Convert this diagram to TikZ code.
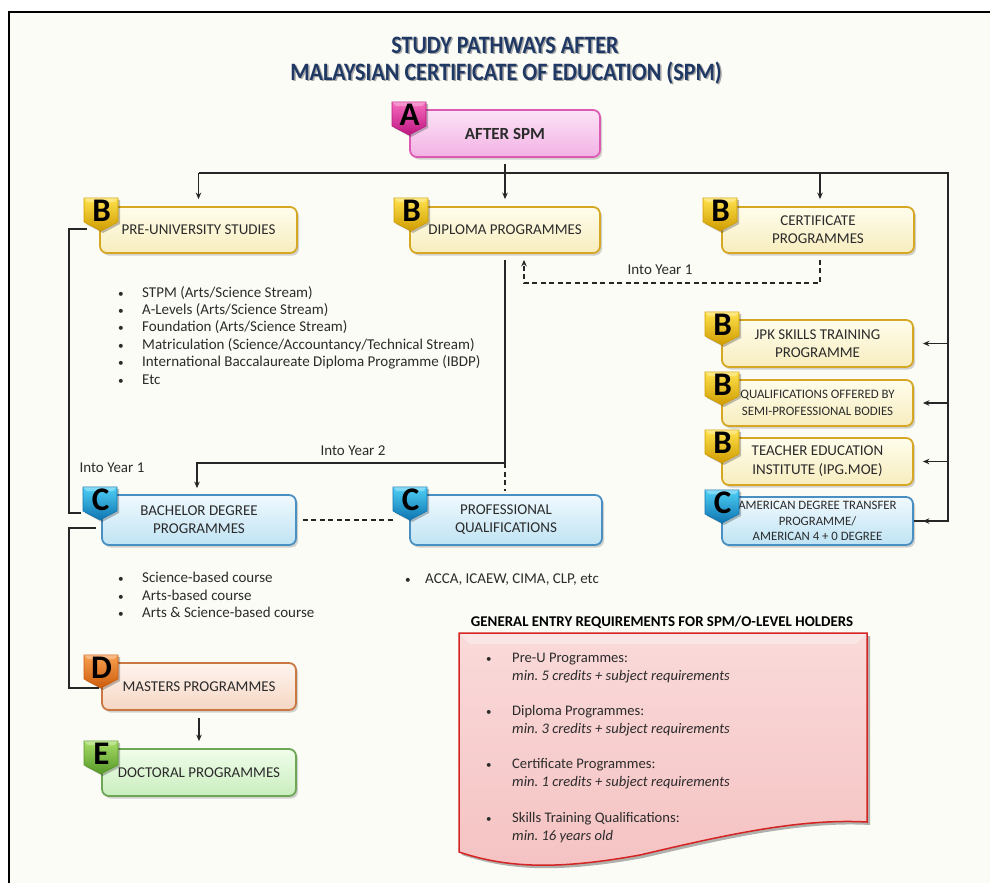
\documentclass[tikz,border=0pt]{standalone}
\usepackage{fontspec}
\setmainfont{Carlito}
\usetikzlibrary{shadows,arrows.meta,calc}
\frenchspacing
\definecolor{bgc}{HTML}{FCFCF6}
\definecolor{navy}{HTML}{1F3864}
\definecolor{txt}{HTML}{2B2B2B}
% box colours
\definecolor{aT}{HTML}{FCE2F6}\definecolor{aB}{HTML}{F2B2E4}\definecolor{aD}{HTML}{DC5AB4}
\definecolor{yT}{HTML}{FFFDEC}\definecolor{yB}{HTML}{F7EDBE}\definecolor{yD}{HTML}{D6A722}
\definecolor{cT}{HTML}{F0F9FE}\definecolor{cB}{HTML}{BFE3F3}\definecolor{cD}{HTML}{4A8FC2}
\definecolor{dT}{HTML}{FFF5EF}\definecolor{dB}{HTML}{F5D6C3}\definecolor{dD}{HTML}{C87840}
\definecolor{eT}{HTML}{F0FDEB}\definecolor{eB}{HTML}{C9EEBD}\definecolor{eD}{HTML}{6EA656}
% badge colours
\definecolor{magL}{HTML}{F66CBE}\definecolor{magD}{HTML}{BE1680}
\definecolor{golL}{HTML}{FFE24E}\definecolor{golD}{HTML}{CF9C00}
\definecolor{cyaL}{HTML}{4ED0F6}\definecolor{cyaD}{HTML}{0E74B0}
\definecolor{oraL}{HTML}{F8A050}\definecolor{oraD}{HTML}{CC5C0C}
\definecolor{grnL}{HTML}{A8DC68}\definecolor{grnD}{HTML}{569826}
\definecolor{redT}{HTML}{FADADA}\definecolor{redB}{HTML}{F5C2C2}\definecolor{redD}{HTML}{D42424}
\tikzset{
 conn/.style={line width=1.5pt, black!85},
 arr/.style={conn, -{Stealth[length=6.5pt,width=5.5pt]}},
 dsh/.style={conn, dash pattern=on 5pt off 3.5pt},
 box/.style={rounded corners=7pt, line width=1.8pt, align=center, inner sep=1pt, text=txt,
   font=\fontsize{15}{18}\selectfont,
   drop shadow={shadow xshift=2pt,shadow yshift=-2.5pt,opacity=0.35}},
 abox/.style={box, draw=aD, top color=aT, bottom color=aB},
 ybox/.style={box, draw=yD, top color=yT, bottom color=yB},
 cbox/.style={box, draw=cD, top color=cT, bottom color=cB},
 dbox/.style={box, draw=dD, top color=dT, bottom color=dB},
 ebox/.style={box, draw=eD, top color=eT, bottom color=eB},
 badgetxt/.style={inner sep=0pt, font=\bfseries\fontsize{33}{33}\selectfont, text=black},
 lbl/.style={inner sep=0pt, text=txt, font=\fontsize{15}{17}\selectfont},
 lst/.style={inner sep=0pt, anchor=north west, align=left, text=txt, font=\fontsize{15}{17.4}\selectfont},
 ttl/.style={inner sep=0pt, font=\bfseries\fontsize{25}{25}\selectfont},
}
\newcommand\mkbadge[5]{%
\begin{scope}[shift={(#2,#3)}]
 \fill[black, opacity=0.25] (2,2) -- (36,2) -- (36,26) -- (19,35) -- (2,26) -- cycle;
 \shade[top color=#4L, bottom color=#4D, draw=#4D, line width=0.6pt] (0,0) -- (34,0) -- (34,24) -- (17,33) -- (0,24) -- cycle;
 \fill[white, opacity=0.3] (0,0) -- (34,0) -- (30,4) -- (4,4) -- cycle;
 \node[badgetxt] (#1) at (17.5,12.5) {#5};
\end{scope}}
\newcommand\bul{\makebox[25pt][l]{\hspace{1pt}\scalebox{0.75}{\textbullet}}}
\begin{document}
\begin{tikzpicture}[x=1pt,y=-1pt]
\useasboundingbox (0,0) rectangle (990,883);
\fill[white] (0,0) rectangle (990,883);
\fill[bgc] (9,12) rectangle (990,883);
\draw[line width=1.8pt] (9,883) -- (9,12) -- (990,12);

% title
\node[ttl, text=black!35] (t1s) at (506.5,46.5) {\scalebox{0.885}[1]{STUDY PATHWAYS AFTER}};
\node[ttl, text=navy] (t1) at (505,45) {\scalebox{0.885}[1]{STUDY PATHWAYS AFTER}};
\node[ttl, text=black!35] (t2s) at (507.5,74.5) {\scalebox{0.885}[1]{MALAYSIAN CERTIFICATE OF EDUCATION (SPM)}};
\node[ttl, text=navy] (t2) at (506,73) {\scalebox{0.885}[1]{MALAYSIAN CERTIFICATE OF EDUCATION (SPM)}};

% boxes
\node[abox, minimum width=190pt, minimum height=47pt, font=\bfseries\fontsize{17}{18}\selectfont] (a) at (505,133.5) {AFTER SPM};
\node[ybox, minimum width=197pt, minimum height=46pt] (b1) at (198.5,230) {PRE-UNIVERSITY STUDIES};
\node[ybox, minimum width=190pt, minimum height=46pt] (b2) at (505,230) {DIPLOMA PROGRAMMES};
\node[ybox, minimum width=192pt, minimum height=46pt] (b3) at (818,230) {CERTIFICATE\\PROGRAMMES};
\node[ybox, minimum width=191pt, minimum height=47pt] (jpk) at (817.5,343.5) {JPK SKILLS TRAINING\\PROGRAMME};
\node[ybox, minimum width=191pt, minimum height=46pt, font=\fontsize{12.9}{17}\selectfont] (qual) at (817.5,403) {QUALIFICATIONS OFFERED BY\\SEMI-PROFESSIONAL BODIES};
\node[ybox, minimum width=191pt, minimum height=47pt, font=\fontsize{15}{19}\selectfont] (teach) at (817.5,461.5) {TEACHER EDUCATION\\INSTITUTE (IPG.MOE)};
\node[cbox, minimum width=191pt, minimum height=48pt, font=\fontsize{12.8}{15.5}\selectfont] (amer) at (817.5,521) {AMERICAN DEGREE TRANSFER\\PROGRAMME/\\AMERICAN 4 + 0 DEGREE};
\node[cbox, minimum width=194pt, minimum height=50pt] (c1) at (199,520) {BACHELOR DEGREE\\PROGRAMMES};
\node[cbox, minimum width=192pt, minimum height=50pt] (c2) at (506,520) {PROFESSIONAL\\QUALIFICATIONS};
\node[dbox, minimum width=194pt, minimum height=47pt] (d) at (199,686.5) {MASTERS PROGRAMMES};
\node[ebox, minimum width=194pt, minimum height=47pt] (e) at (199,772.5) {DOCTORAL PROGRAMMES};

% connectors
\coordinate (jA) at (505,173);
\coordinate (rt) at (948,173);
\coordinate (lx) at (69,0);
\draw[conn] ($(a.south)+(0,6)$) -- (jA);
\draw[conn] (b1.north |- jA) -- (rt) |- ($(amer.east)+(0,0)$);
\draw[arr] (jA) -- ($(b2.north)+(0,-7)$);
\draw[arr] (b1.north |- jA) -- ($(b1.north)+(0,-7)$);
\draw[arr] ($(b3.north |- jA)+(2,0)$) -- ($(b3.north)+(2,-7)$);
\draw[arr] (rt |- jpk.east) -- ($(jpk.east)+(9,0)$);
\draw[arr] (rt |- qual.east) -- ($(qual.east)+(9,0)$);
\draw[arr] (rt |- teach.east) -- ($(teach.east)+(9,0)$);
\draw[arr] (rt |- amer.east) -- ($(amer.east)+(9,0)$);

\coordinate (d1) at (820,283);
\draw[dsh, -{Stealth[length=6.5pt,width=5.5pt]}] ($(b3.south -| d1)+(0,6)$) -- (d1) -| ($(b2.south)+(19,6)$);
\node[lbl] (iy1) at (660,270) {Into Year 1};

\coordinate (jY2) at (505,463);
\draw[conn] ($(b2.south)+(0,6)$) -- (jY2);
\draw[arr] (jY2) -| ($(c1.north)+(-2,-6)$);
\draw[dsh] (jY2) -- ($(c2.north)+(-1,-3)$);
\node[lbl] (iy2) at (353,451) {Into Year 2};
\node[lbl] (iy1b) at (112,468) {Into Year 1};
\draw[dsh] ($(c1.east)+(6,0)$) -- ($(c2.west)+(-15,0)$);

\coordinate (p1) at ($(b1.west)+(-12,-1)$);
\coordinate (p2) at ($(c1.west)+(-20,-7)$);
\coordinate (p3) at ($(c1.west)+(-5,8)$);
\coordinate (p4) at ($(d.west)+(-2,1.5)$);
\draw[conn] (p1) -- (lx |- p1) -- (lx |- p2) -- (p2);
\draw[conn] (p3) -- (lx |- p3) -- (lx |- p4) -- (p4);
\draw[arr] ($(d.south)+(0,7)$) -- ($(e.north)+(0,-7)$);

% badges
\mkbadge{ka}{392}{102}{mag}{A}
\mkbadge{kb1}{84}{198}{gol}{B}
\mkbadge{kb2}{394}{198}{gol}{B}
\mkbadge{kb3}{703}{198}{gol}{B}
\mkbadge{kjpk}{705}{312}{gol}{B}
\mkbadge{kqual}{705}{372}{gol}{B}
\mkbadge{kteach}{705}{430}{gol}{B}
\mkbadge{kamer}{705}{490}{cya}{C}
\mkbadge{kc1}{83}{487}{cya}{C}
\mkbadge{kc2}{393}{487}{cya}{C}
\mkbadge{kd}{84}{655}{ora}{D}
\mkbadge{ke}{84}{741}{grn}{E}

% lists
\node[lst] (l1) at (117,286) {\bul STPM (Arts/Science Stream)\\
\bul A-Levels (Arts/Science Stream)\\
\bul Foundation (Arts/Science Stream)\\
\bul Matriculation (Science/Accountancy/Technical Stream)\\
\bul International Baccalaureate Diploma Programme (IBDP)\\
\bul Etc};
\node[lst] (l2) at (117,572) {\bul Science-based course\\
\bul Arts-based course\\
\bul Arts \& Science-based course};
\node[lst] (l3) at (404,574) {\makebox[21pt][l]{\hspace{1pt}\scalebox{0.75}{\textbullet}}ACCA, ICAEW, CIMA, CLP, etc};

% requirements
\node[inner sep=0pt, text=black, font=\bfseries\fontsize{14.9}{15}\selectfont] (gh) at (662,622) {GENERAL ENTRY REQUIREMENTS FOR SPM/O-LEVEL HOLDERS};
\fill[black, opacity=0.3] (462,636) -- (870,636) -- (870,825) .. controls (800,821) and (720,840) .. (643,858) .. controls (560,873) and (510,871) .. (462,855) -- cycle;
\shade[top color=redT, bottom color=redB, draw=redD, line width=1.5pt] (459,633) -- (867,633) -- (867,822) .. controls (797,818) and (717,837) .. (640,855) .. controls (557,870) and (507,868) .. (459,852) -- cycle;
\fill[white, opacity=0.35] (460,634) -- (866,634) -- (856,644) -- (470,644) -- cycle;
\node[lst, font=\fontsize{14.6}{18}\selectfont] (req) at (485,652.5) {%
\makebox[27pt][l]{\hspace{1pt}\scalebox{0.75}{\textbullet}}Pre-U Programmes:\\
\hspace*{27pt}\textit{min. 5 credits + subject requirements}\\[17pt]
\makebox[27pt][l]{\hspace{1pt}\scalebox{0.75}{\textbullet}}Diploma Programmes:\\
\hspace*{27pt}\textit{min. 3 credits + subject requirements}\\[17pt]
\makebox[27pt][l]{\hspace{1pt}\scalebox{0.75}{\textbullet}}Certificate Programmes:\\
\hspace*{27pt}\textit{min. 1 credits + subject requirements}\\[18pt]
\makebox[27pt][l]{\hspace{1pt}\scalebox{0.75}{\textbullet}}Skills Training Qualifications:\\
\hspace*{27pt}\textit{min. 16 years old}};
\end{tikzpicture}
\end{document}
